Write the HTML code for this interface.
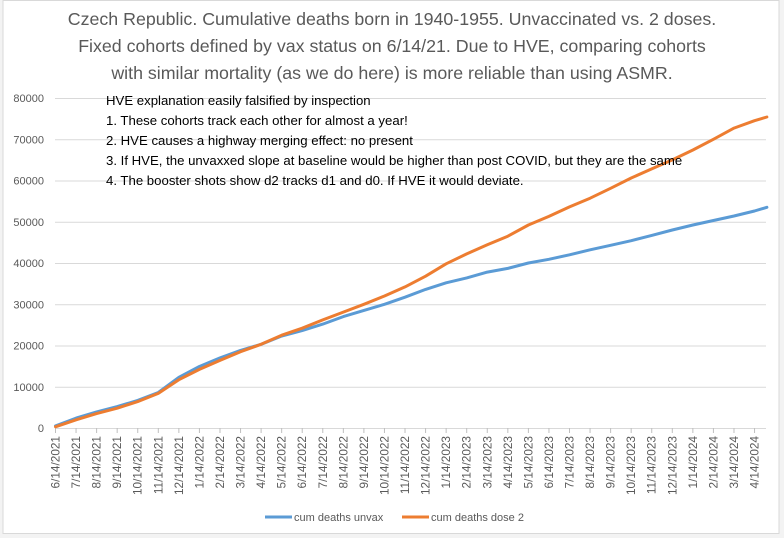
<!DOCTYPE html>
<html><head><meta charset="utf-8"><style>
body{margin:0;background:#fff;}
svg{display:block;font-family:"Liberation Sans",Arial,sans-serif;}
</style></head><body>
<svg id="chart" width="784" height="538">
<rect x="0" y="0" width="784" height="538" fill="#f3f3f3"/>
<rect x="3" y="0.5" width="776" height="533" fill="#fff" stroke="#d9d9d9"/>
<g fill="#595959" font-size="17.8" text-anchor="middle">
<text x="392" y="25">Czech Republic. Cumulative deaths born in 1940-1955. Unvaccinated vs. 2 doses.</text>
<text x="392" y="52">Fixed cohorts defined by vax status on 6/14/21. Due to HVE, comparing cohorts</text>
<text x="392" y="79">with similar mortality (as we do here) is more reliable  than using ASMR.</text>
</g>
<g id="grid"></g><g id="yticks"></g><g id="xticks"></g><g id="series"></g>
<g fill="#000" font-size="13.2">
<text x="106" y="105">HVE explanation easily falsified by inspection</text>
<text x="106" y="125">1. These cohorts track each other for almost a year!</text>
<text x="106" y="145">2. HVE causes a highway merging effect: no present</text>
<text x="106" y="165">3. If HVE, the unvaxxed slope at baseline would be higher than post COVID, but they are the same</text>
<text x="106" y="185">4. The booster shots show d2 tracks d1 and d0. If HVE it would deviate.</text>
</g>
<g font-size="11" fill="#595959">
<line x1="265" y1="517" x2="292" y2="517" stroke="#5b9bd5" stroke-width="3"/>
<text x="294" y="521">cum deaths unvax</text>
<line x1="402" y1="517" x2="429" y2="517" stroke="#ed7d31" stroke-width="3"/>
<text x="431" y="521">cum deaths dose 2</text>
</g>
</svg>
<script>
const tickLabels=["6/14/2021","7/14/2021","8/14/2021","9/14/2021","10/14/2021","11/14/2021","12/14/2021","1/14/2022","2/14/2022","3/14/2022","4/14/2022","5/14/2022","6/14/2022","7/14/2022","8/14/2022","9/14/2022","10/14/2022","11/14/2022","12/14/2022","1/14/2023","2/14/2023","3/14/2023","4/14/2023","5/14/2023","6/14/2023","7/14/2023","8/14/2023","9/14/2023","10/14/2023","11/14/2023","12/14/2023","1/14/2024","2/14/2024","3/14/2024","4/14/2024"];
const yTicks=[0,10000,20000,30000,40000,50000,60000,70000,80000];
const months=[0,1,2,3,4,5,6,7,8,9,10,11,12,13,14,15,16,17,18,19,20,21,22,23,24,25,26,27,28,29,30,31,32,33,34,34.6];
const unvax=[500,2400,3900,5200,6700,8600,12300,14900,17000,18800,20300,22300,23600,25200,27000,28500,30000,31700,33600,35200,36400,37800,38700,40000,40900,42000,43200,44300,45400,46700,48000,49200,50300,51400,52600,53500];
const dose2=[300,2000,3500,4800,6400,8400,11700,14200,16400,18500,20300,22500,24200,26200,28100,30000,32000,34200,36800,39800,42200,44400,46500,49200,51300,53600,55700,58100,60600,62800,65000,67400,70000,72700,74500,75400];
const NS="http://www.w3.org/2000/svg";
const X0=55.5,DX=20.56,Y0=428,YS=330/80000;
const xS=m=>X0+m*DX, yS=v=>Y0-v*YS;
function mk(t,a,p){const e=document.createElementNS(NS,t);for(const k in a)e.setAttribute(k,a[k]);p.appendChild(e);return e;}
const grid=document.getElementById('grid'),yt=document.getElementById('yticks'),xt=document.getElementById('xticks'),ser=document.getElementById('series');
yTicks.forEach(v=>{
 const l=mk('line',{x1:55,x2:766,y1:yS(v)+0.5,y2:yS(v)+0.5,stroke:'#d9d9d9'},grid);
 
 
 const t=mk('text',{x:44,y:yS(v)+4,'text-anchor':'end','font-size':'11',fill:'#595959'},yt);
 t.textContent=v;
 
 
});
tickLabels.forEach((s,i)=>{
 const x=xS(i);
 const tk=mk('line',{x1:x,x2:x,y1:Y0,y2:Y0+5,stroke:'#bfbfbf'},xt);
 
 
 const t=mk('text',{x:0,y:0,'text-anchor':'end','font-size':'11.8',fill:'#595959',transform:`translate(${x+4},${Y0+8}) rotate(-90)`},xt);
 t.textContent=s;
 
 
});
function line(vals,color,name){
 const d=vals.map((v,i)=>(i?'L':'M')+xS(months[i]).toFixed(1)+','+yS(v).toFixed(1)).join('');
 const p=mk('path',{d:d,fill:'none',stroke:color,'stroke-width':3,'stroke-linejoin':'round','stroke-linecap':'round'},ser);
 
 
}
line(unvax,'#5b9bd5','series-unvax-line');
line(dose2,'#ed7d31','series-dose2-line');
</script>
</body></html>
